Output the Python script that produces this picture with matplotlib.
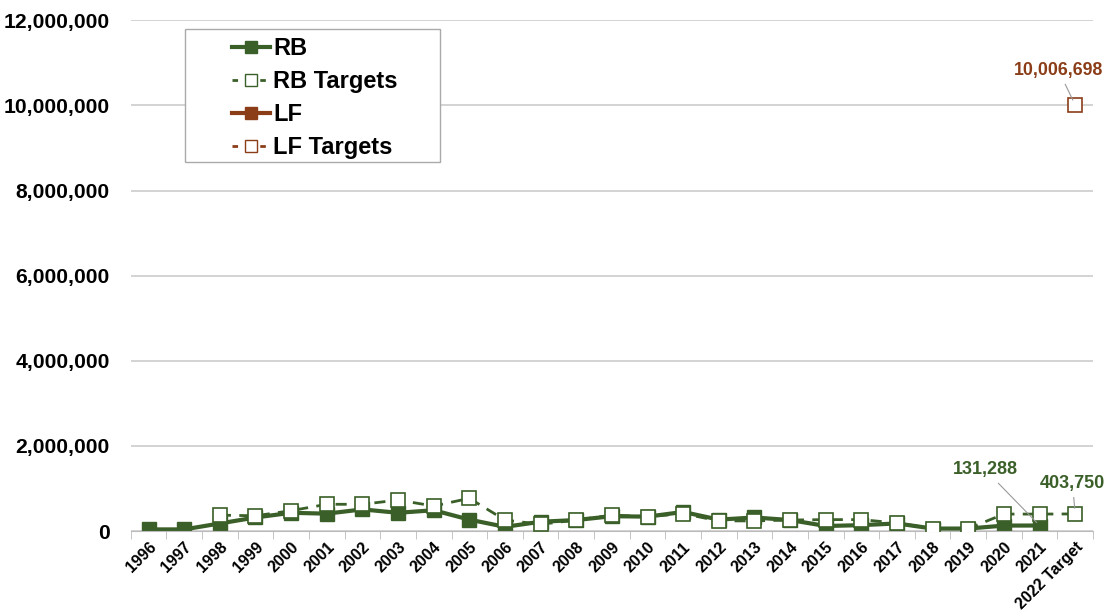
import numpy as np
import matplotlib.pyplot as plt
from matplotlib.lines import Line2D
from matplotlib.patches import Rectangle

plt.rcParams['font.family'] = ['Liberation Sans', 'DejaVu Sans']
plt.rcParams['font.weight'] = 'bold'

years = [str(y) for y in range(1996, 2022)] + ['2022 Target']

# actual RB values (1996-2021)
rb = [40000, 40000, 180000, 320000, 430000, 410000, 510000, 430000, 490000, 270000,
      100000, 220000, 260000, 350000, 340000, 450000, 270000, 320000, 260000, 120000,
      140000, 180000, 60000, 60000, 130000, 131288]
# RB targets (1998-2022)
rb_targets = [None, None, 375000, 360000, 480000, 630000, 630000, 730000, 590000, 770000,
              260000, 160000, 260000, 375000, 340000, 410000, 240000, 240000, 260000, 270000,
              270000, 190000, 60000, 60000, 400000, 400000, 403750]
lf = []
lf_target_2022 = 10006698

GREEN = '#3a5f28'
BROWN = '#8b3d18'

def to_arr(vals, n):
    a = np.full(n, np.nan)
    for i, v in enumerate(vals):
        if v is not None:
            a[i] = v
    return a

n = len(years)
x = np.arange(n)
rb_arr = to_arr(rb, n)
rbt_arr = to_arr(rb_targets, n)
lf_arr = to_arr(lf, n)
lft_arr = np.full(n, np.nan)
lft_arr[-1] = lf_target_2022

fig = plt.figure(figsize=(11.08, 6.14), dpi=100)
ax = fig.add_axes([0.118, 0.135, 0.8685, 0.832])

ax.plot(x, rbt_arr, color=GREEN, lw=2, ls=(0, (4, 3)), marker='s', ms=10,
        mfc='white', mec=GREEN, mew=1.2, zorder=3)
ax.plot(x, rb_arr, color=GREEN, lw=3, marker='s', ms=10, mfc=GREEN, mec=GREEN, zorder=2)
ax.plot(x, lf_arr, color=BROWN, lw=3, marker='s', ms=10, mfc=BROWN, mec=BROWN, zorder=2)
ax.plot(x, lft_arr, color=BROWN, lw=2, ls=(0, (4, 3)), marker='s', ms=10,
        mfc='white', mec=BROWN, mew=1.2, zorder=3)

ax.set_xlim(-0.5, n - 0.5)
ax.set_ylim(0, 12000000)
ax.set_yticks(np.arange(0, 12000001, 2000000))
ax.yaxis.set_major_formatter(plt.FuncFormatter(lambda v, p: f'{int(v):,}'))
ax.tick_params(axis='y', length=0, labelsize=15.2, pad=15)
ax.grid(axis='y', color='#cccccc', lw=1.2)
ax.set_axisbelow(True)

ax.set_xticks(x)
ax.set_xticklabels(years, rotation=45, ha='right', rotation_mode='anchor', fontsize=11.5)
ax.tick_params(axis='x', length=0, pad=6)
ax.set_xticks(np.arange(-0.5, n, 1), minor=True)
ax.tick_params(axis='x', which='minor', length=6, color='#bbbbbb')

for s in ['left', 'right', 'top']:
    ax.spines[s].set_visible(False)
ax.spines['bottom'].set_color('#bbbbbb')

# value labels
ax.annotate('131,288', xy=(25, 131288), xytext=(-39, 40), textcoords='offset points',
            ha='center', va='center', color=GREEN, fontsize=13, fontweight='bold',
            arrowprops=dict(arrowstyle='-', color='#999999', lw=0.8, shrinkA=2, shrinkB=3))
ax.annotate('403,750', xy=(26, 403750), xytext=(-2, 22), textcoords='offset points',
            ha='center', va='center', color=GREEN, fontsize=13, fontweight='bold',
            arrowprops=dict(arrowstyle='-', color='#999999', lw=0.8, shrinkA=2, shrinkB=4))
ax.annotate('10,006,698', xy=(26, lf_target_2022), xytext=(-12, 25), textcoords='offset points',
            ha='center', va='center', color=BROWN, fontsize=12.8, fontweight='bold',
            arrowprops=dict(arrowstyle='-', color='#999999', lw=0.8, shrinkA=2, shrinkB=4))

# legend box drawn separately so the entries can sit inset from its left edge
fig.patches.append(Rectangle((185 / 1108, 1 - 162 / 614), 255 / 1108, 133 / 614,
                             transform=fig.transFigure, facecolor='white',
                             edgecolor='#aaaaaa', lw=1, zorder=5))

handles = [
    Line2D([], [], color=GREEN, lw=3, marker='s', ms=9, mfc=GREEN, mec=GREEN),
    Line2D([], [], color=GREEN, lw=2, ls=(0, (2, 3)), marker='s', ms=9, mfc='white', mec=GREEN),
    Line2D([], [], color=BROWN, lw=3, marker='s', ms=9, mfc=BROWN, mec=BROWN),
    Line2D([], [], color=BROWN, lw=2, ls=(0, (2, 3)), marker='s', ms=9, mfc='white', mec=BROWN),
]
leg = fig.legend(handles, ['RB', 'RB Targets', 'LF', 'LF Targets'],
                 loc='upper left', bbox_to_anchor=(232 / 1108, 1 - 37 / 614), fontsize=17,
                 frameon=False, borderpad=0, labelspacing=0.43,
                 handlelength=1.6, handletextpad=0.15, borderaxespad=0)
leg.set_zorder(6)

fig.savefig('out.png', dpi=100)
